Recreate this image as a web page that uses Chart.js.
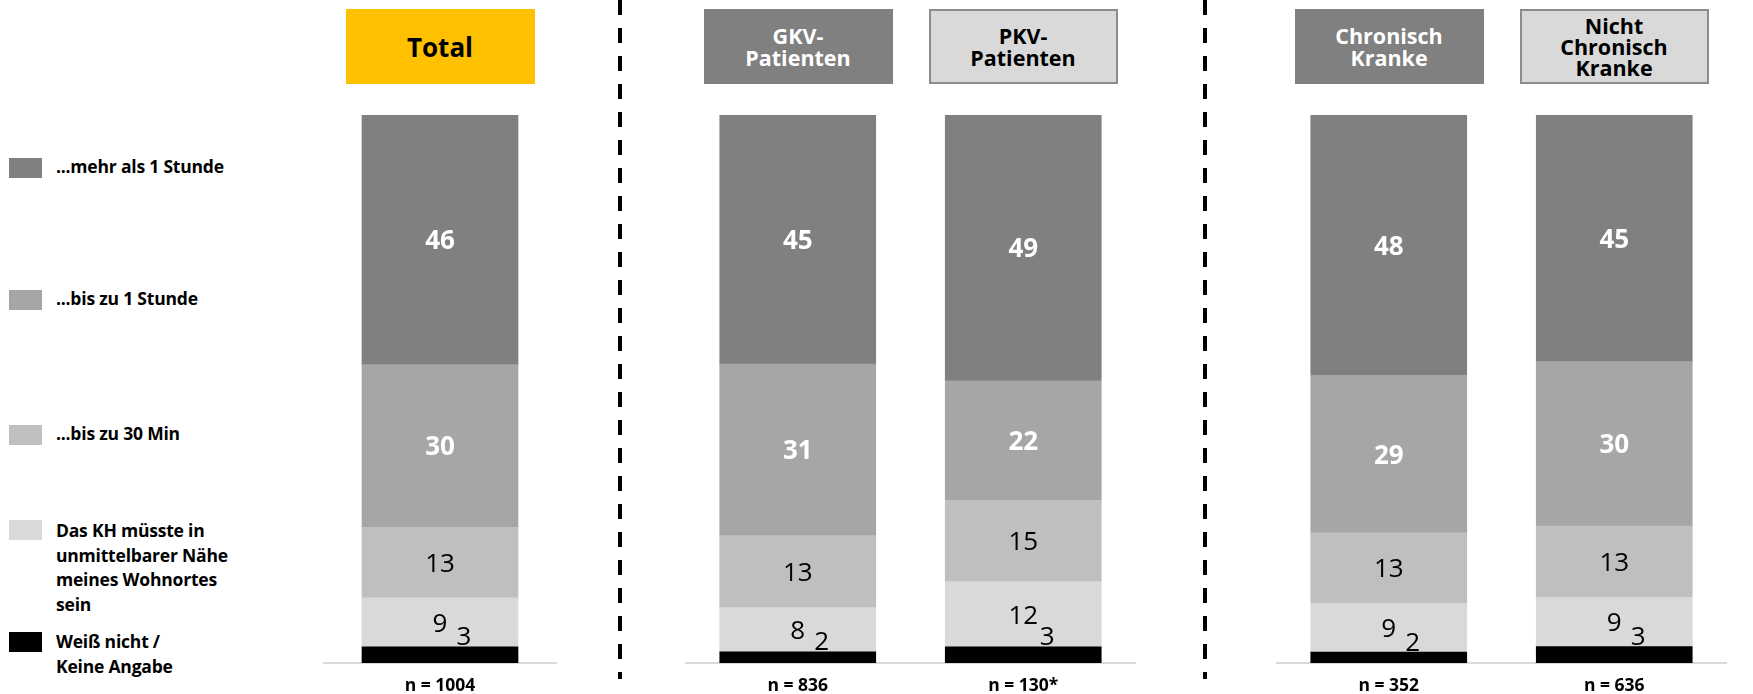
<!DOCTYPE html>
<html>
<head>
<meta charset="utf-8">
<script src="https://cdn.jsdelivr.net/npm/chart.js@4.4.1/dist/chart.umd.min.js"></script>
<style>
  html, body { margin: 0; padding: 0; background: #fff; overflow: hidden; }
  body { width: 1753px; height: 694px; position: relative; font-family: "Open Sans", sans-serif; }
  .legend-item { position: absolute; left: 9px; }
  .legend-box { position: absolute; left: 0; width: 33px; height: 20px; }
  .legend-text { position: absolute; left: 47px; width: 230px; font-weight: 700; font-size: 17.5px; line-height: 24.5px; color: #000; white-space: nowrap; letter-spacing: -0.2px; }
  .head { position: absolute; top: 9px; height: 75px; width: 189px; box-sizing: border-box;
          display: flex; align-items: center; justify-content: center; text-align: center;
          font-weight: 700; font-size: 21.5px; line-height: 22px; }
  .dash { position: absolute; top: 0; width: 4px; height: 679px;
          background: repeating-linear-gradient(to bottom, #000 0 15px, transparent 15px 28px); }
  .panel { position: absolute; top: 115px; }
</style>
</head>
<body>
<div id="legend"></div>
<div id="heads"></div>
<div class="dash" style="left:618px"></div>
<div class="dash" style="left:1203px"></div>
<div class="panel" style="left:323px"><canvas id="c0" width="234" height="579"></canvas></div>
<div class="panel" style="left:685px"><canvas id="c1" width="451" height="579"></canvas></div>
<div class="panel" style="left:1276px"><canvas id="c2" width="451" height="579"></canvas></div>
<script>
const groups = ['Total', 'GKV-<br>Patienten', 'PKV-<br>Patienten', 'Chronisch<br>Kranke', 'Nicht<br>Chronisch<br>Kranke'];
const nLabels = ['n = 1004', 'n = 836', 'n = 130*', 'n = 352', 'n = 636'];
// stacked bottom -> top
const weissNicht = [3, 2, 3, 2, 3];
const naehe = [9, 8, 12, 9, 9];
const bis30Min = [13, 13, 15, 13, 13];
const bis1Std = [30, 31, 22, 29, 30];
const mehr1Std = [46, 45, 49, 48, 45];

const seriesNames = ['Weiß nicht /<br>Keine Angabe', 'Das KH müsste in<br>unmittelbarer Nähe<br>meines Wohnortes<br>sein',
    '...bis zu 30 Min', '...bis zu 1 Stunde', '...mehr als 1 Stunde'];
const seriesData = [weissNicht, naehe, bis30Min, bis1Std, mehr1Std];
const seriesColors = ['#000000', '#d9d9d9', '#bfbfbf', '#a6a6a6', '#808080'];
const panels = [[0], [1, 2], [3, 4]];

// legend (left column)
const legendPos = [[632, 632], [520, 521], [425, 424], [290, 289], [158, 157]];
const legend = document.getElementById('legend');
seriesNames.forEach((name, i) => {
    const item = document.createElement('div');
    item.className = 'legend-item';
    item.innerHTML = `<div class="legend-box" style="top:${legendPos[i][0]}px;background:${seriesColors[i]}"></div>
      <div class="legend-text" style="top:${legendPos[i][1] - 3}px">${name}</div>`;
    legend.appendChild(item);
});

// header boxes
const headCenters = [440, 798, 1023, 1389, 1614];
const headStyles = [
    'background:#ffc000;color:#000;font-size:26px;',
    'background:#808080;color:#fff;',
    'background:#d9d9d9;color:#000;border:2px solid #8c8c8c;',
    'background:#808080;color:#fff;',
    'background:#d9d9d9;color:#000;border:2px solid #8c8c8c;line-height:21px;'
];
const heads = document.getElementById('heads');
groups.forEach((g, i) => {
    const d = document.createElement('div');
    d.className = 'head';
    d.style.cssText = headStyles[i] + `left:${headCenters[i] - 94.5}px`;
    d.innerHTML = g;
    heads.appendChild(d);
});

const valueLabels = {
    id: 'valueLabels',
    afterDatasetsDraw(chart) {
        const ctx = chart.ctx;
        ctx.save();
        ctx.textAlign = 'center';
        ctx.textBaseline = 'middle';
        chart.data.datasets.forEach((ds, di) => {
            const meta = chart.getDatasetMeta(di);
            meta.data.forEach((bar, j) => {
                const v = ds.raw[j];
                let x = bar.x, y = (bar.y + bar.base) / 2 + 2;
                if (di === 0) { x += 24; y = bar.y - 9; }
                if (di >= 3) {
                    ctx.fillStyle = '#fff';
                    ctx.font = '700 26px "Open Sans"';
                } else {
                    ctx.fillStyle = '#000';
                    ctx.font = '500 26px "Open Sans"';
                }
                ctx.fillText(v, x, y);
            });
        });
        ctx.restore();
    }
};

panels.forEach((idx, p) => {
    const sums = idx.map(k => seriesData.reduce((a, s) => a + s[k], 0));
    new Chart(document.getElementById('c' + p), {
        type: 'bar',
        data: {
            labels: idx.map(k => nLabels[k]),
            datasets: seriesData.map((s, i) => ({
                data: idx.map((k, j) => s[k] / sums[j] * 100),
                raw: idx.map(k => s[k]),
                backgroundColor: seriesColors[i],
                borderWidth: 0,
                barThickness: 156
            }))
        },
        options: {
            responsive: false,
            animation: false,
            layout: { padding: 0 },
            plugins: { legend: { display: false }, tooltip: { enabled: false } },
            scales: {
                x: {
                    stacked: true,
                    grid: { display: false, drawTicks: false },
                    border: { display: true, color: '#d9d9d9', width: 2 },
                    ticks: { color: '#000', padding: 13, font: { family: 'Open Sans', size: 17.5, weight: '700' } },
                    afterFit: s => { s.height = 31; }
                },
                y: { stacked: true, display: false, min: 0, max: 100 }
            }
        },
        plugins: [valueLabels]
    });
});
</script>
</body>
</html>
